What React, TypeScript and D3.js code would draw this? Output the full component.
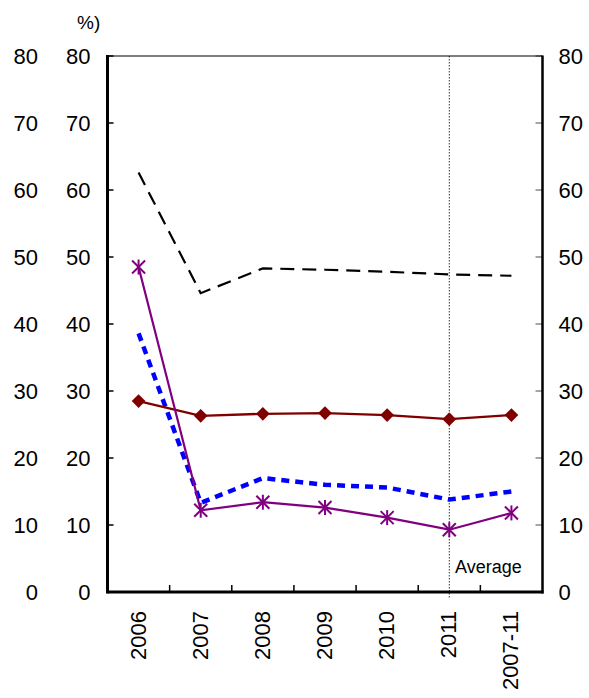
import React from "react";
import * as d3 from "d3";

const categories = ["2006", "2007", "2008", "2009", "2010", "2011", "2007-11"];
const seriesBlackDashed = [62.6, 44.6, 48.3, 48.1, 47.8, 47.4, 47.2];
const seriesBlueDashed = [38.6, 13.3, 17.0, 16.0, 15.6, 13.8, 15.0];
const seriesRedDiamond = [28.5, 26.3, 26.6, 26.7, 26.4, 25.8, 26.4];
const seriesPurpleStar = [48.5, 12.2, 13.4, 12.6, 11.1, 9.3, 11.8];
const yTicks = [0, 10, 20, 30, 40, 50, 60, 70, 80];

const W = 589;
const H = 698;
const left = 107.5;
const right = 542.5;
const top = 56;
const bottom = 592;
const font = "'Liberation Sans', Arial, sans-serif";

export default function App() {
  const x = d3.scaleBand<string>().domain(categories).range([left, right]).padding(0);
  const y = d3.scaleLinear().domain([0, 80]).range([bottom, top]);
  const cx = (c: string) => (x(c) as number) + x.bandwidth() / 2;
  const line = d3
    .line<number>()
    .x((_, i) => cx(categories[i]))
    .y((d) => y(d));

  const diamond = d3.symbol().type(d3.symbolDiamond2).size(120)();
  const avgX = cx("2011");

  return (
    <svg width={W} height={H} style={{ display: "block", position: "absolute", left: 0, top: 0 }}>
      <rect width={W} height={H} fill="#fff" />
      <text x={77} y={29} fontFamily={font} fontSize={19} fill="#000">
        %)
      </text>
      {yTicks.map((t) => (
        <g key={"l" + t}>
          <text x={38} y={y(t)} dy="0.36em" textAnchor="end" fontFamily={font} fontSize={22}>
            {t}
          </text>
          <text x={90.5} y={y(t)} dy="0.36em" textAnchor="end" fontFamily={font} fontSize={22}>
            {t}
          </text>
          <text x={558.5} y={y(t)} dy="0.36em" textAnchor="start" fontFamily={font} fontSize={22}>
            {t}
          </text>
        </g>
      ))}
      {yTicks.map((t) => (
        <g key={"t" + t}>
          <line x1={left} x2={left + 6} y1={y(t)} y2={y(t)} stroke="#000" strokeWidth={1.5} />
          <line x1={right} x2={right - 7} y1={y(t)} y2={y(t)} stroke="#888" strokeWidth={1.5} />
        </g>
      ))}
      {categories.slice(1).map((c) => (
        <line key={"b" + c} x1={x(c) as number} x2={x(c) as number} y1={bottom} y2={bottom - 7} stroke="#000" strokeWidth={1.5} />
      ))}
      <line x1={avgX} x2={avgX} y1={top} y2={599} stroke="#333" strokeWidth={1} strokeDasharray="1.5,1.5" />
      <text x={455} y={573} fontFamily={font} fontSize={18} fill="#000">
        Average
      </text>
      <line x1={left} x2={right} y1={top} y2={top} stroke="#000" strokeWidth={1.2} />
      <line x1={left} x2={left} y1={top - 1} y2={bottom + 1.5} stroke="#000" strokeWidth={3} />
      <line x1={right} x2={right} y1={top - 0.5} y2={bottom + 1.5} stroke="#000" strokeWidth={2.5} />
      <line x1={left} x2={right + 1} y1={bottom} y2={bottom} stroke="#000" strokeWidth={3} />
      <path d={line(seriesBlackDashed) || ""} fill="none" stroke="#000" strokeWidth={2.2} strokeDasharray="14,8" />
      <path d={line(seriesBlueDashed) || ""} fill="none" stroke="#0000ff" strokeWidth={4.5} strokeDasharray="8,6" />
      <path d={line(seriesRedDiamond) || ""} fill="none" stroke="#800000" strokeWidth={2.3} />
      {seriesRedDiamond.map((v, i) => (
        <path key={"d" + i} d={diamond || ""} transform={`translate(${cx(categories[i])},${y(v)})`} fill="#800000" />
      ))}
      <path d={line(seriesPurpleStar) || ""} fill="none" stroke="#800080" strokeWidth={2.2} />
      {seriesPurpleStar.map((v, i) => {
        const px = cx(categories[i]);
        const py = y(v);
        const r = 6.5;
        return (
          <g key={"s" + i} stroke="#800080" strokeWidth={2}>
            <line x1={px - r} x2={px + r} y1={py - r} y2={py + r} />
            <line x1={px - r} x2={px + r} y1={py + r} y2={py - r} />
            <line x1={px} x2={px} y1={py - r - 1} y2={py + r + 1} />
          </g>
        );
      })}
      {categories.map((c) => (
        <text
          key={"c" + c}
          transform={`translate(${cx(c) + 7},611) rotate(-90)`}
          textAnchor="end"
          fontFamily={font}
          fontSize={22}
        >
          {c}
        </text>
      ))}
    </svg>
  );
}
